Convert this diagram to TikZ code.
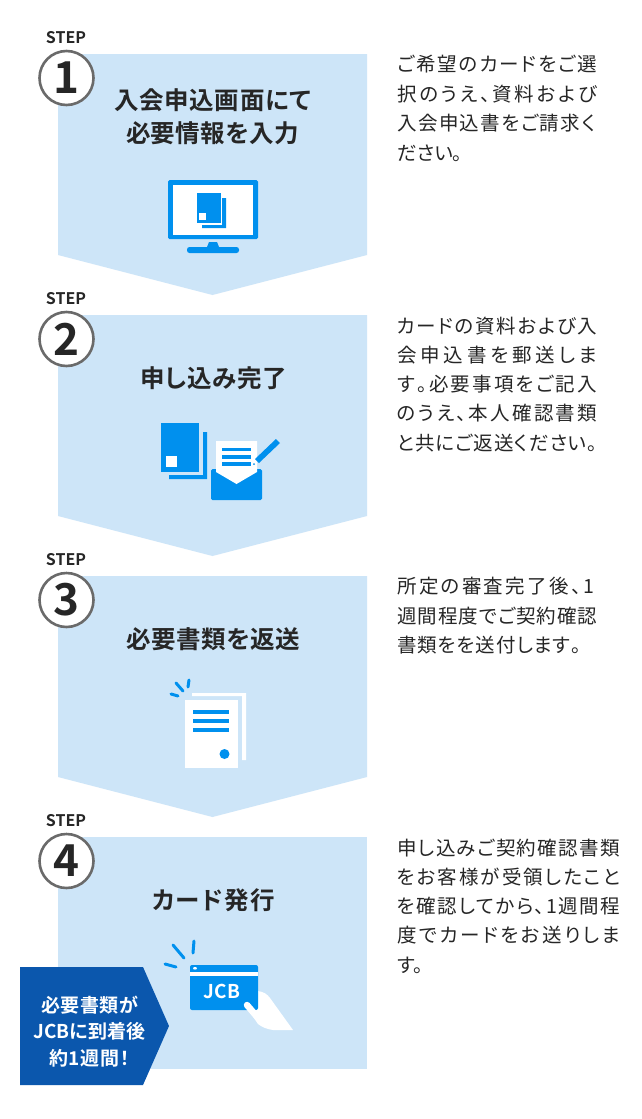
\documentclass[tikz,border=0pt]{standalone}
\usepackage{fontspec}
\setmainfont[BoldFont={Noto Sans CJK JP Bold},RawFeature={+palt}]{Noto Sans CJK JP}
\usetikzlibrary{shapes.geometric}
\definecolor{pale}{HTML}{CDE5F8}
\definecolor{ico}{HTML}{0090EE}
\definecolor{ink}{HTML}{262626}
\definecolor{ring}{HTML}{6A6A6A}
\definecolor{tagblue}{HTML}{0B57AD}
\ExplSyntaxOn
\NewDocumentCommand\jl{mm}{\leavevmode\hbox to #1 {\tl_map_inline:nn{#2}{##1\hfil}\unskip}}
\ExplSyntaxOff
\tikzset{
 x=1pt,y=-1pt,
 panel/.style={fill=pale,draw=none},
 stepword/.style={font=\fontsize{16}{16}\selectfont\bfseries,text=ink,inner sep=0pt,anchor=center},
 ringnode/.style={circle,draw=ring,line width=2.6pt,fill=white,minimum size=54pt,inner sep=0pt,text=ink,font=\fontsize{44}{44}\selectfont\bfseries},
 title/.style={font=\fontsize{24.5}{33}\selectfont\bfseries,text=ink,inner sep=0pt,align=center,anchor=center},
 desc/.style={font=\fontsize{19.5}{20}\selectfont,text=ink,inner sep=0pt,anchor=west},
 blue/.style={fill=ico,draw=none},
 paper/.style={fill=white,draw=none},
 ray/.style={draw=ico,line width=3pt,line cap=round},
 taglabel/.style={font=\fontsize{19}{26.5}\selectfont\bfseries,text=white,inner sep=0pt,align=center,anchor=center},
}
\begin{document}
\begin{tikzpicture}
\useasboundingbox[fill=white] (0,0) rectangle (641,1119);
% panels
\path[panel] (58,54)--(367,54)--(367,255)--(212.5,295)--(58,255)--cycle;
\path[panel] (58,315)--(367,315)--(367,516)--(212.5,556)--(58,516)--cycle;
\path[panel] (58,576)--(367,576)--(367,777)--(212.5,817)--(58,777)--cycle;
\path[panel] (58,837) rectangle (367,1069);
% step marks
\node[stepword] (w1) at (66,37.5) {STEP};
\node[stepword] (w2) at (66,298.5) {STEP};
\node[stepword] (w3) at (66,559.5) {STEP};
\node[stepword] (w4) at (66,820.5) {STEP};
\node[ringnode] (n1) at (66.5,78) {1};
\node[ringnode] (n2) at (66.5,339) {2};
\node[ringnode] (n3) at (66.5,600) {3};
\node[ringnode] (n4) at (66.5,861) {4};
% titles
\node[title] (t1) at (212.5,116.5) {\jl{197pt}{入会申込画面にて}\\\jl{173pt}{必要情報を入力}};
\node[title] (t2) at (213.5,378) {\jl{147pt}{申し込み完了}};
\node[title] (t3) at (213,639) {\jl{174pt}{必要書類を返送}};
\node[title] (t4) at (213.5,900) {\jl{123pt}{カード発行}};
% descriptions
\node[desc] (d11) at (397,64) {\jl{200pt}{ご希望のカードをご選}};
\node[desc] (d12) at (397,94) {\jl{200pt}{択のうえ、資料および}};
\node[desc] (d13) at (397,123) {\jl{198pt}{入会申込書をご請求く}};
\node[desc] (d14) at (397,153) {ださい。};
\node[desc] (d21) at (397,326) {\jl{200pt}{カードの資料および入}};
\node[desc] (d22) at (397,355) {\jl{200pt}{会申込書を郵送しま}};
\node[desc] (d23) at (397,384) {\jl{200pt}{す。必要事項をご記入}};
\node[desc] (d24) at (397,413) {\jl{200pt}{のうえ、本人確認書類}};
\node[desc] (d25) at (397,443) {\jl{200pt}{と共にご返送ください。}};
\node[desc] (d31) at (397,586) {\jl{197pt}{所定の審査完了後、1}};
\node[desc] (d32) at (397,616) {\jl{200pt}{週間程度でご契約確認}};
\node[desc] (d33) at (397,645) {\jl{184pt}{書類をを送付します。}};
\node[desc] (d41) at (397,848) {\jl{223pt}{申し込みご契約確認書類}};
\node[desc] (d42) at (397,877) {\jl{223pt}{をお客様が受領したこと}};
\node[desc] (d43) at (397,906) {\jl{223pt}{を確認してから、1週間程}};
\node[desc] (d44) at (397,935) {\jl{223pt}{度でカードをお送りしま}};
\node[desc] (d45) at (397,965) {す。};
% icon 1: monitor
\path[blue,rounded corners=1.5pt] (168,180) rectangle (258,239);
\path[paper] (173,185) rectangle (253,235);
\path[blue] (197,193) rectangle (221,223);
\path[blue] (222,198)--(226,198)--(226,228)--(202,228)--(202,225)--(222,225)--cycle;
\path[paper] (199,213) rectangle (206,220);
\path[blue] (209,242)--(217,242)--(219,247)--(207,247)--cycle;
\path[blue,rounded corners=2.5pt] (187,247) rectangle (239,253);
% icon 2: documents and envelope
\path[blue] (161,423) rectangle (199,472);
\path[blue] (203,432)--(207,432)--(207,479)--(169,479)--(169,475)--(203,475)--cycle;
\path[paper] (166,456) rectangle (177,467);
\path[blue,rounded corners=1.5pt] (211,469)--(262,469)--(262,500)--(211,500)--cycle;
\path[paper] (216,441)--(257,441)--(257,472)--(236.5,484)--(216,472)--cycle;
\path[blue] (222,448) rectangle (251,451);
\path[blue] (222,455) rectangle (251,459);
\path[blue] (222,462) rectangle (251,466);
\path[blue] (255,459)--(259,463)--(280,443)--(276,439)--cycle;
\path[blue] (254,464) circle (1pt);
% icon 3: paper
\path[paper] (192,693)--(246,693)--(246,760)--(242,760)--(242,696)--(192,696)--cycle;
\path[paper] (185,700) rectangle (238,768);
\path[blue] (193,710) rectangle (229,714);
\path[blue] (193,719) rectangle (229,723);
\path[blue] (193,728) rectangle (229,732);
\path[blue] (224.5,754) circle (5pt);
\draw[ray] (176,683)--(183,691);
\draw[ray] (189,680)--(188,687);
\draw[ray] (171,694)--(178,696);
% icon 4: card and hand
\draw[ray] (173,945)--(184,958);
\draw[ray] (194,941)--(193,953);
\draw[ray] (165,964)--(176,967);
\path[paper] (258,991) .. controls (264,992) and (267,994) .. (270,998)--(293,1030)--(273,1030)
  .. controls (266,1029) and (262,1027) .. (258,1024)--(250,1012)--cycle;
\path[blue,rounded corners=2pt] (190,965) rectangle (258,1010);
\path[paper] (190,972) rectangle (258,976);
\path[paper] (195,968.3) ellipse (2pt and 1.3pt);
\node[font=\fontsize{19}{19}\selectfont\bfseries,text=white,inner sep=0pt] (jcb) at (222,991) {JCB};
\draw[white,line width=6.5pt,line cap=round] (247,1005)--(259,1019);
% tag
\path[fill=tagblue] (20,967)--(143,967)--(169,1026)--(143,1085)--(20,1085)--cycle;
\node[taglabel] (tg) at (89.5,1031.5) {\jl{97pt}{必要書類が}\\\jl{113pt}{JCBに到着後}\\\jl{81pt}{約1週間！}};
\end{tikzpicture}
\end{document}
